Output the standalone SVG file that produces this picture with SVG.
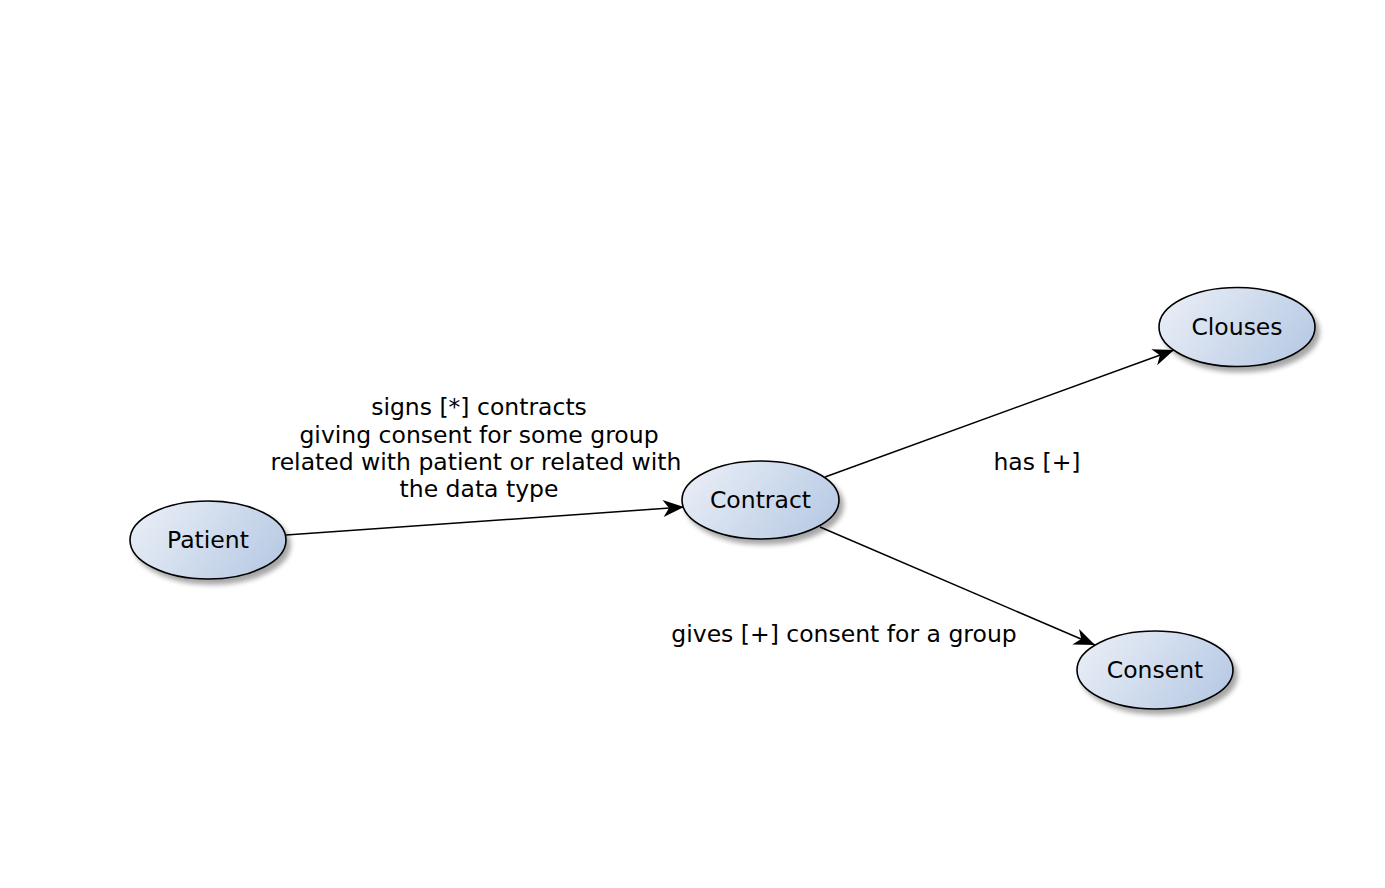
<svg xmlns="http://www.w3.org/2000/svg" width="1385" height="888" viewBox="0 0 1385 888">
  <style>
    .node ellipse { fill: url(#nodeFill); stroke: #000; stroke-width: 1.6; filter: url(#shadow); }
    .node text, .label { font-family: "DejaVu Sans", sans-serif; font-size: 23.5px; fill: #000; text-anchor: middle; dominant-baseline: central; }
    .edge { stroke: #000; stroke-width: 1.5; fill: none; marker-end: url(#arrow); }
  </style>
  <defs>
    <linearGradient id="nodeFill" x1="0" y1="0.3" x2="1" y2="0.7">
      <stop offset="0" stop-color="#e8edf6"/>
      <stop offset="1" stop-color="#b7cae4"/>
    </linearGradient>
    <filter id="shadow" x="-20%" y="-20%" width="150%" height="160%">
      <feGaussianBlur in="SourceAlpha" stdDeviation="2.5"/>
      <feOffset dx="4" dy="5" result="off"/>
      <feComponentTransfer><feFuncA type="linear" slope="0.35"/></feComponentTransfer>
      <feMerge><feMergeNode/><feMergeNode in="SourceGraphic"/></feMerge>
    </filter>
    <marker id="arrow" markerUnits="userSpaceOnUse" viewBox="-22 -10 24 20" refX="0" refY="0" markerWidth="24" markerHeight="20" orient="auto">
      <path d="M0,0 L-21,-8.5 L-15,0 L-21,8.5 Z" fill="#000"/>
    </marker>
  </defs>

  <rect width="1385" height="888" fill="#fff"/>

  <g id="connectors">
    <line class="edge" x1="286" y1="535" x2="684" y2="507"/>
    <line class="edge" x1="825" y1="477" x2="1174" y2="350"/>
    <line class="edge" x1="820" y1="527" x2="1095" y2="645"/>
    <text class="label" x="479" y="407">signs [*] contracts</text>
    <text class="label" x="479" y="435">giving consent for some group</text>
    <text class="label" x="476" y="462">related with patient or related with</text>
    <text class="label" x="479" y="489">the data type</text>
    <text class="label" x="1037" y="462">has [+]</text>
    <text class="label" x="844" y="634">gives [+] consent for a group</text>
  </g>

  <g id="patient" class="node">
    <ellipse cx="208" cy="540" rx="78" ry="39"/>
    <text x="208" y="540">Patient</text>
  </g>
  <g id="contract" class="node">
    <ellipse cx="760.5" cy="500" rx="78.5" ry="39"/>
    <text x="760.5" y="500">Contract</text>
  </g>
  <g id="clouses" class="node">
    <ellipse cx="1237" cy="327" rx="78" ry="39.5"/>
    <text x="1237" y="327">Clouses</text>
  </g>
  <g id="consent" class="node">
    <ellipse cx="1155" cy="670" rx="78" ry="39"/>
    <text x="1155" y="670">Consent</text>
  </g>
</svg>
